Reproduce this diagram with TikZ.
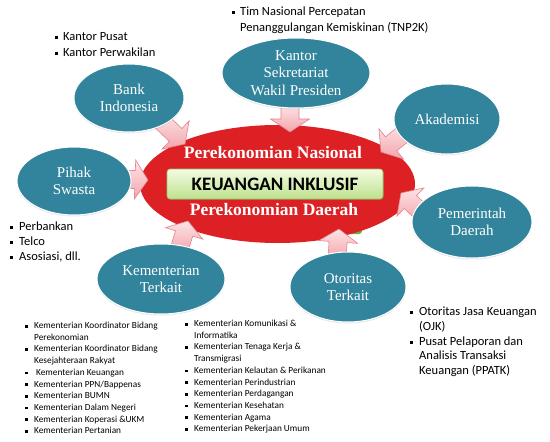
\documentclass[tikz,border=0pt]{standalone}
\usepackage{fontspec}
\setmainfont{Liberation Serif}
\newfontfamily\calfont{Carlito}
\usetikzlibrary{calc,shadows,shapes.geometric}
\definecolor{tealc}{RGB}{49,132,155}
\definecolor{redc}{RGB}{220,32,36}
\definecolor{greenTop}{RGB}{243,251,228}
\definecolor{greenBot}{RGB}{190,225,140}
\definecolor{greenEdge}{RGB}{150,195,100}
\definecolor{greenSl}{RGB}{110,175,60}
\definecolor{arrTop}{RGB}{253,228,230}
\definecolor{arrBot}{RGB}{243,165,172}
\definecolor{arrEdge}{RGB}{228,130,140}
\newcommand\sqb[1]{\makebox[#1][l]{\raisebox{0.12em}{\rule{0.24em}{0.24em}}}}
\newcommand\sqs[1]{\makebox[#1][l]{\raisebox{1.0pt}{\rule{2.8pt}{2.8pt}}}}
\newcommand\blockarr[2]{%
  \coordinate (bbase) at ($(#2)!13pt!(#1)$);
  \path[arrowsty] ($(#1)!9pt!90:(#2)$) -- ($(bbase)!9pt!-90:(#1)$) -- ($(bbase)!19.5pt!-90:(#1)$)
    -- (#2) -- ($(bbase)!19.5pt!90:(#1)$) -- ($(bbase)!9pt!90:(#1)$) -- ($(#1)!9pt!-90:(#2)$) -- cycle;}
\tikzset{
  outer/.style={ellipse, fill=tealc, draw=white, line width=1pt, text=white, inner sep=0pt,
    align=center, font=\fontsize{15}{17.5}\selectfont,
    drop shadow={opacity=0.18, shadow xshift=0pt, shadow yshift=-1.5pt}},
  arrowsty/.style={top color=arrTop, bottom color=arrBot, draw=arrEdge, line width=0.6pt, line join=miter},
  listbig/.style={anchor=base west, align=left, inner sep=0pt, font=\calfont\fontsize{12.5}{15.5}\selectfont},
  listsmall/.style={anchor=base west, align=left, inner sep=0pt, font=\calfont\fontsize{9.3}{11.7}\selectfont},
  title/.style={text=white, font=\bfseries\fontsize{17.5}{20}\selectfont, inner sep=0pt}
}
\begin{document}
\begin{tikzpicture}[x=1pt,y=-1pt]
\useasboundingbox[fill=white] (0,0) rectangle (550,442);
% green sliver behind
\path[fill=greenSl, rounded corners=3pt] (336,212) rectangle (362,234);
% central ellipse
\node[ellipse, fill=redc, minimum width=275pt, minimum height=118pt, inner sep=0pt] (center) at (277.5,184) {};
\node[rounded corners=3pt, top color=greenTop, bottom color=greenBot, draw=greenEdge, line width=0.6pt,
  minimum width=216pt, minimum height=30pt, inner sep=0pt,
  drop shadow={opacity=0.35, shadow xshift=0.8pt, shadow yshift=-1.2pt},
  font=\calfont\bfseries\fontsize{19}{22}\selectfont] (ki) at (275,184) {KEUANGAN INKLUSIF};
\node[title] (pn) at (273,153) {Perekonomian Nasional};
\node[title] (pd) at (274,210) {Perekonomian Daerah};
% arrow coordinates
\coordinate (tKS) at (290,105); \coordinate (hKS) at (290,132);
\coordinate (tBI) at (160,120); \coordinate (hBI) at (185,144);
\coordinate (tAK) at (407,131); \coordinate (hAK) at (381,152);
\coordinate (tPS) at (119,179); \coordinate (hPS) at (148,180);
\coordinate (tKT) at (179,250); \coordinate (hKT) at (188,221);
\coordinate (tOT) at (337,258); \coordinate (hOT) at (339,229);
\coordinate (tPD) at (424,215); \coordinate (hPD) at (401,193);
\blockarr{tKS}{hKS}
\blockarr{tBI}{hBI}
\blockarr{tAK}{hAK}
\blockarr{tPS}{hPS}
\blockarr{tKT}{hKT}
\blockarr{tOT}{hOT}
\blockarr{tPD}{hPD}
% outer ellipses
\node[outer, minimum width=110pt, minimum height=68pt] (bi) at (129,98) {Bank\\Indonesia};
\node[outer, minimum width=148pt, minimum height=70pt] (ks) at (296,73) {Kantor\\Sekretariat\\Wakil Presiden};
\node[outer, minimum width=106pt, minimum height=70pt] (ak) at (447,119) {Akademisi};
\node[outer, minimum width=114pt, minimum height=68pt] (ps) at (74,181) {Pihak\\Swasta};
\node[outer, minimum width=120pt, minimum height=72pt] (pm) at (472,222) {Pemerintah\\Daerah};
\node[outer, minimum width=116pt, minimum height=70pt] (ot) at (348,287) {Otoritas\\Terkait};
\node[outer, minimum width=128pt, minimum height=70pt] (km) at (161,279) {Kementerian\\Terkait};
% lists (anchored at the baseline of their last line)
\node[listbig] (lbi) at (55,56) {\sqb{8pt}Kantor Pusat\\ \sqb{8pt}Kantor Perwakilan};
\node[listbig, font=\calfont\fontsize{12.5}{16}\selectfont] (lks) at (232,31.5) {\sqb{8pt}Tim Nasional Percepatan\\ \hspace*{8pt}Penanggulangan Kemiskinan (TNP2K)};
\node[listbig, font=\calfont\fontsize{12.5}{15}\selectfont] (lps) at (10,260.5) {\sqb{9pt}Perbankan\\ \sqb{9pt}Telco\\ \sqb{9pt}Asosiasi, dll.};
\node[listbig, font=\calfont\fontsize{12.5}{14.8}\selectfont] (lot) at (410,374.7) {\sqb{9pt}Otoritas Jasa Keuangan\\ \hspace*{9pt}(OJK)\\ \sqb{9pt}Pusat Pelaporan dan\\ \hspace*{9pt}Analisis Transaksi\\ \hspace*{9pt}Keuangan (PPATK)};
\node[listsmall] (lkm1) at (25,433.8) {\sqs{9pt}Kementerian Koordinator Bidang\\ \hspace*{9pt}Perekonomian\\ \sqs{9pt}Kementerian Koordinator Bidang\\ \hspace*{9pt}Kesejahteraan Rakyat\\ \sqs{9pt}\hspace*{2pt}Kementerian Keuangan\\ \sqs{9pt}Kementerian PPN/Bappenas\\ \sqs{9pt}Kementerian BUMN\\ \sqs{9pt}Kementerian Dalam Negeri\\ \sqs{9pt}Kementerian Koperasi \&UKM\\ \sqs{9pt}Kementerian Pertanian};
\node[listsmall] (lkm2) at (185,431.8) {\sqs{9pt}Kementerian Komunikasi \&\\ \hspace*{9pt}Informatika\\ \sqs{9pt}Kementerian Tenaga Kerja \&\\ \hspace*{9pt}Transmigrasi\\ \sqs{9pt}Kementerian Kelautan \& Perikanan\\ \sqs{9pt}Kementerian Perindustrian\\ \sqs{9pt}Kementerian Perdagangan\\ \sqs{9pt}Kementerian Kesehatan\\ \sqs{9pt}Kementerian Agama\\ \sqs{9pt}Kementerian Pekerjaan Umum};
\end{tikzpicture}
\end{document}
